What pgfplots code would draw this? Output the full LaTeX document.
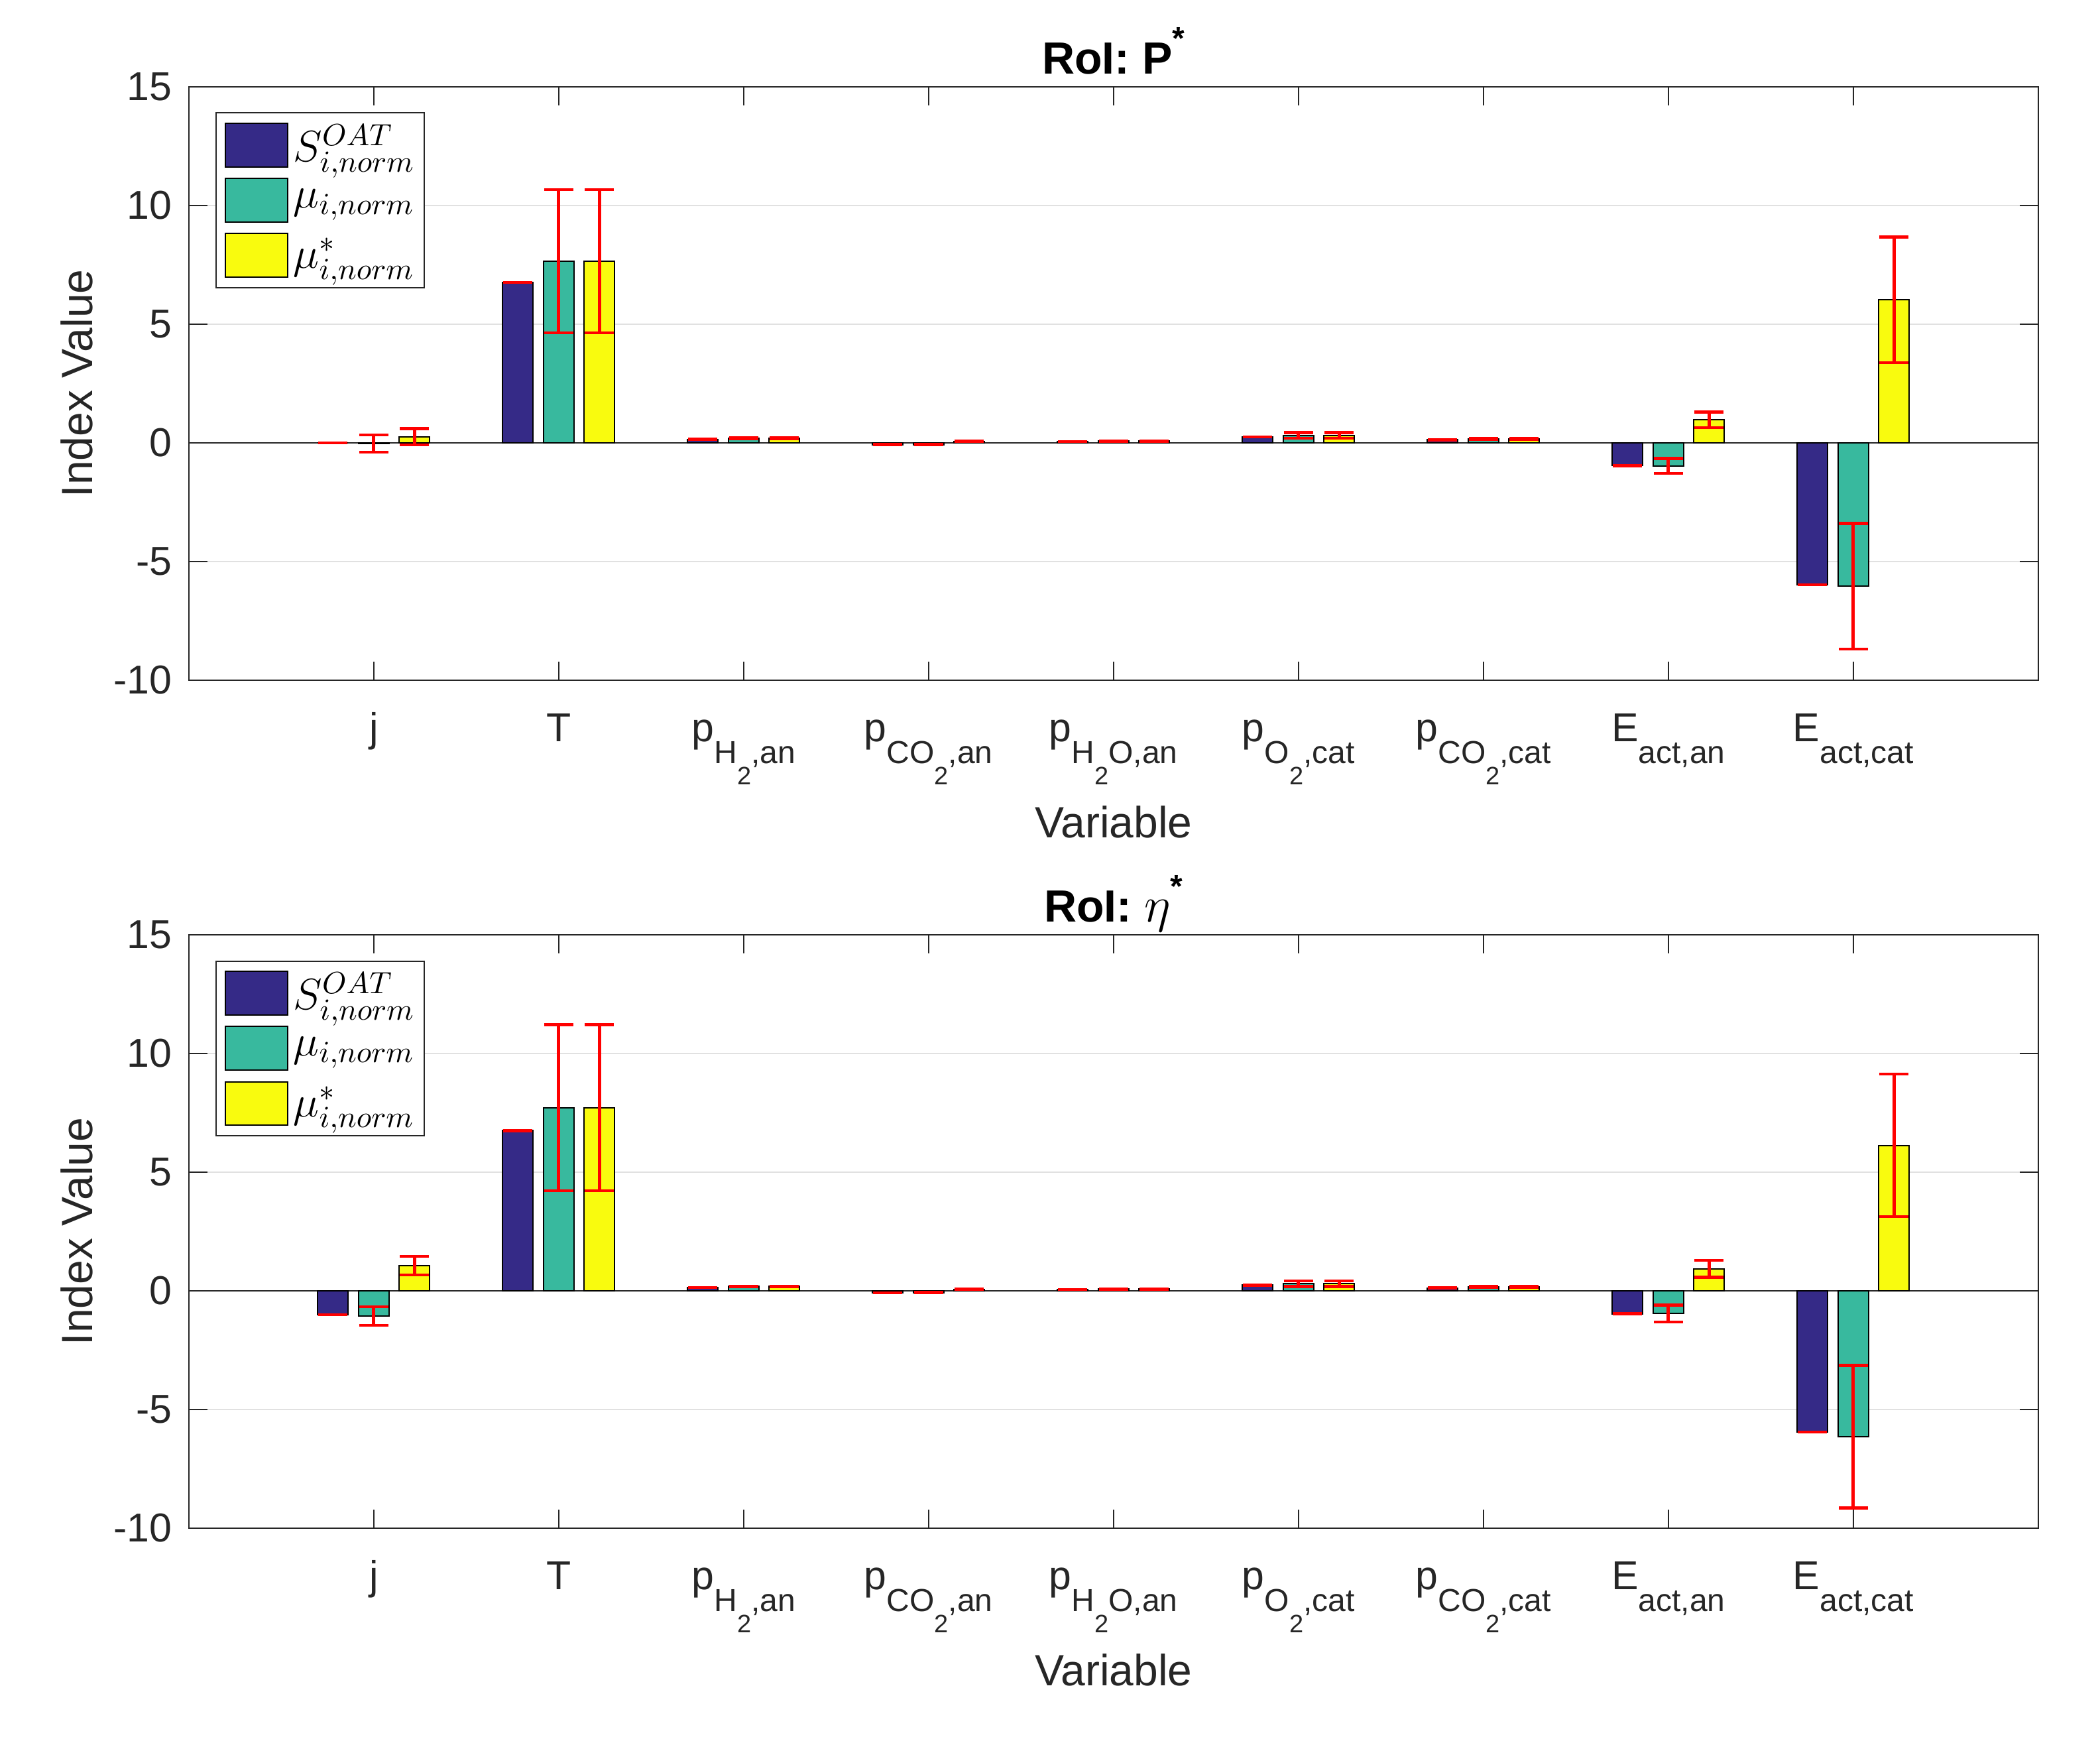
\RequirePackage{fix-cm}
\documentclass[border=0pt]{standalone}
\usepackage{fontspec}
\setmainfont{Liberation Sans}
\usepackage{pgfplots}
\usepackage{pgfplotstable}
\pgfplotsset{compat=1.18}
\definecolor{cS}{RGB}{53,42,135}
\definecolor{cM}{RGB}{56,185,158}
\definecolor{cMs}{RGB}{249,251,14}
\definecolor{axgray}{RGB}{38,38,38}
\definecolor{gridgray}{RGB}{225,225,225}
\newcommand{\sub}[1]{\raisebox{-8.3pt}{\fontsize{12}{12}\selectfont #1}}
\newcommand{\subb}[1]{\raisebox{-8pt}{\fontsize{9.5}{10}\selectfont #1}}
\newcommand{\tstar}{\raisebox{9.3pt}{\fontsize{12}{12}\selectfont *}}

\pgfplotstableread{
x S Serr M Merr Ms Mserr
1 0.00 0 -0.04 0.36 0.25 0.34
2 6.76 0 7.65 3.02 7.65 3.02
3 0.14 0 0.18 0.02 0.18 0.02
4 -0.08 0 -0.08 0.01 0.06 0.01
5 0.05 0 0.07 0.01 0.07 0.01
6 0.24 0 0.30 0.12 0.30 0.12
7 0.12 0 0.16 0.02 0.16 0.02
8 -0.97 0 -0.98 0.32 0.96 0.33
9 -5.99 0 -6.05 2.65 6.02 2.65
}\tabP

\pgfplotstableread{
x S Serr M Merr Ms Mserr
1 -1.01 0 -1.07 0.39 1.06 0.39
2 6.75 0 7.72 3.50 7.72 3.50
3 0.14 0 0.18 0.02 0.18 0.02
4 -0.08 0 -0.08 0.01 0.06 0.01
5 0.05 0 0.07 0.01 0.07 0.01
6 0.24 0 0.30 0.12 0.30 0.12
7 0.12 0 0.16 0.02 0.16 0.02
8 -0.97 0 -0.96 0.36 0.93 0.36
9 -5.95 0 -6.15 3.00 6.13 3.00
}\tabE

\pgfplotsset{
  swatch/.style={legend image code/.code={%
      \path[draw=none, fill=none] (0pt,-10.4pt) rectangle (23.5pt,10.4pt);
      \path[fill=#1, draw=black, line width=0.5pt] (0pt,-8.2pt) rectangle (23.5pt,8.2pt);}},
  myax/.style={
    scale only axis, width=697.5pt, height=223.7pt,
    xmin=0, xmax=10, ymin=-10, ymax=15, enlargelimits=false,
    ybar, bar width=11.5pt,
    xtick={1,2,3,4,5,6,7,8,9},
    xticklabels={{j},{T},{p\sub{H\subb{2},an}},{p\sub{CO\subb{2},an}},{p\sub{H\subb{2}O,an}},{p\sub{O\subb{2},cat}},{p\sub{CO\subb{2},cat}},{E\sub{act,an}},{E\sub{act,cat}}},
    ytick={-10,-5,0,5,10,15}, yticklabels={-10,-5,0,5,10,15},
    ymajorgrids, major grid style={gridgray, line width=0.5pt},
    tick align=inside, major tick length=7pt,
    tick style={axgray, line width=0.5pt},
    axis line style={axgray, line width=0.5pt},
    xticklabel style={font=\fontsize{15.2}{18}\selectfont, text=axgray, anchor=base, yshift=-23.2pt, inner sep=0pt},
    yticklabel style={font=\fontsize{15.2}{18}\selectfont, text=axgray, anchor=east, inner sep=0pt, xshift=-6.2pt},
    xlabel={Variable}, ylabel={Index Value},
    xlabel style={at={(axis description cs:0.5,-0.2655)}, anchor=base, font=\fontsize{16.5}{19}\selectfont, text=axgray, inner sep=0pt},
    ylabel style={at={(axis description cs:-0.0522,0.5)}, anchor=base, font=\fontsize{16.5}{19}\selectfont, text=axgray, inner sep=0pt},
    title style={at={(axis description cs:0.5,1)}, anchor=base, yshift=-1.2pt, font=\bfseries\fontsize{17}{20}\selectfont, text=black, inner sep=0pt},
    legend cell align=left,
    legend style={at={(axis description cs:0.01435,0.957)}, anchor=north west,
      draw=axgray, line width=0.5pt, inner xsep=3.4pt, inner ysep=1.7pt,
      row sep=0pt, column sep=1.8pt,
      font=\fontsize{16.5}{19}\selectfont, nodes={inner sep=0pt, text=black}},
    error bars/error bar style={red, line width=1.25pt},
    error bars/error mark options={red, line width=1.1pt, mark size=5.5pt, rotate=90},
  }
}

\begin{document}
\begin{tikzpicture}
\begin{axis}[myax, at={(71.2pt,-32.7pt)}, anchor=north west, title={RoI: P\tstar}]
\draw[axgray, line width=0.5pt] (axis cs:0,0) -- (axis cs:10,0);
\addplot[fill=cS, draw=black, line width=0.5pt, bar shift=-15.4pt, swatch=cS,
  error bars/.cd, y dir=both, y explicit] table[x=x, y=S, y error=Serr] {\tabP};
\addplot[fill=cM, draw=black, line width=0.5pt, bar shift=0pt, swatch=cM,
  error bars/.cd, y dir=both, y explicit] table[x=x, y=M, y error=Merr] {\tabP};
\addplot[fill=cMs, draw=black, line width=0.5pt, bar shift=15.4pt, swatch=cMs,
  error bars/.cd, y dir=both, y explicit] table[x=x, y=Ms, y error=Mserr] {\tabP};
\legend{$S_{i,norm}^{OAT}$, $\mu_{i,norm}$, $\mu^{*}_{i,norm}$}
\end{axis}
\begin{axis}[myax, at={(71.2pt,-352.5pt)}, anchor=north west, title={RoI: {\mdseries\fontsize{19}{20}\selectfont$\eta$}\tstar}]
\draw[axgray, line width=0.5pt] (axis cs:0,0) -- (axis cs:10,0);
\addplot[fill=cS, draw=black, line width=0.5pt, bar shift=-15.4pt, swatch=cS,
  error bars/.cd, y dir=both, y explicit] table[x=x, y=S, y error=Serr] {\tabE};
\addplot[fill=cM, draw=black, line width=0.5pt, bar shift=0pt, swatch=cM,
  error bars/.cd, y dir=both, y explicit] table[x=x, y=M, y error=Merr] {\tabE};
\addplot[fill=cMs, draw=black, line width=0.5pt, bar shift=15.4pt, swatch=cMs,
  error bars/.cd, y dir=both, y explicit] table[x=x, y=Ms, y error=Mserr] {\tabE};
\legend{$S_{i,norm}^{OAT}$, $\mu_{i,norm}$, $\mu^{*}_{i,norm}$}
\end{axis}
\path (0pt,0pt) rectangle (792pt,-657pt);
\end{tikzpicture}
\end{document}
